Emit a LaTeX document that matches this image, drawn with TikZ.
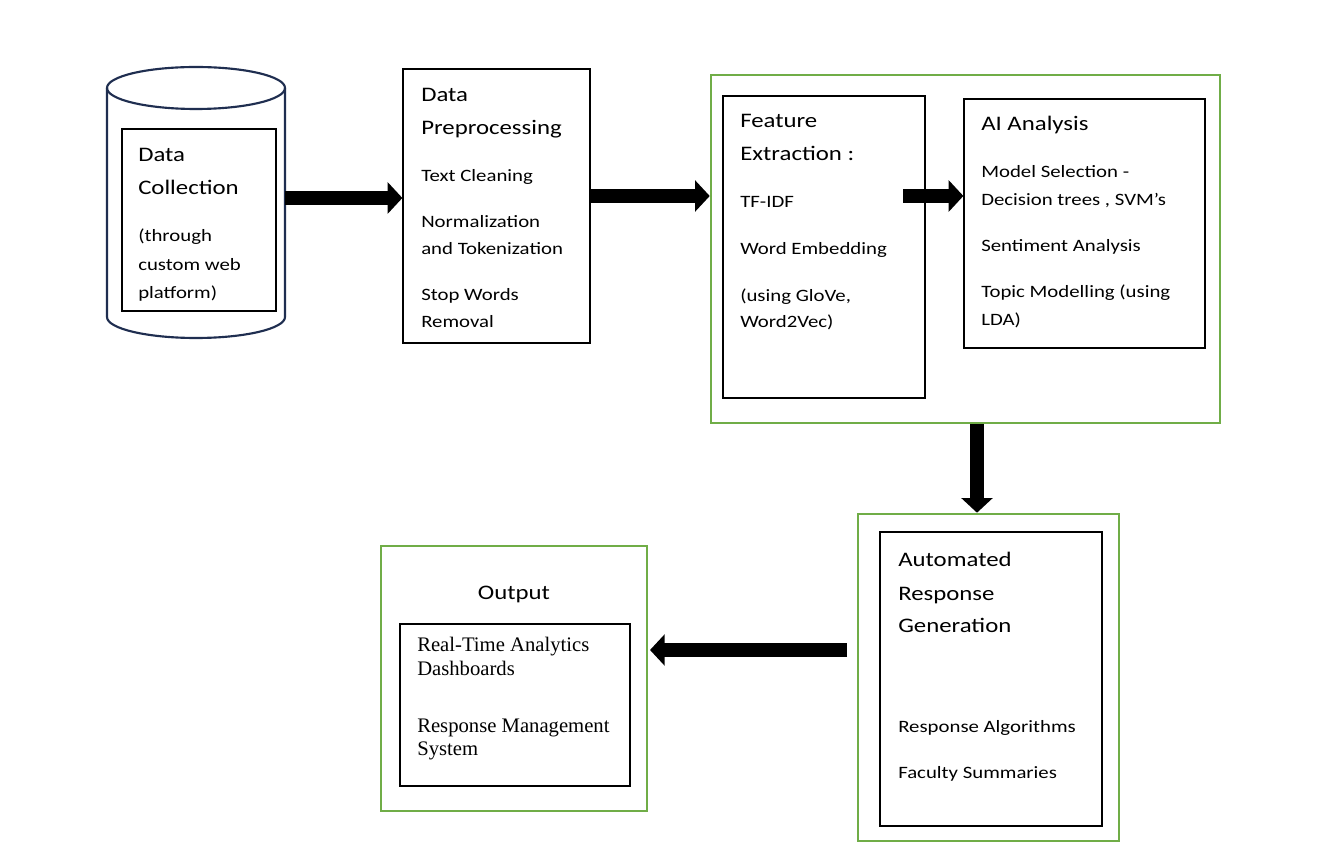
\documentclass[tikz,border=0pt]{standalone}
\usepackage{fontspec}
\usetikzlibrary{arrows.meta,fit}
\newfontfamily\calfont[FakeStretch=1.2]{Carlito}
\newfontfamily\tnrfont{Liberation Serif}
\definecolor{navy}{RGB}{31,46,80}
\definecolor{grn}{RGB}{112,173,71}
\tikzset{
  box/.style={draw=black, line width=0.9pt, inner sep=0pt},
  gbox/.style={draw=grn, line width=1.9pt, inner sep=0pt},
  big/.style={anchor=base west, inner sep=0pt, font=\calfont\fontsize{15.5}{18}\selectfont},
  sml/.style={anchor=base west, inner sep=0pt, font=\calfont\fontsize{13}{15}\selectfont},
  ser/.style={anchor=base west, inner sep=0pt, font=\tnrfont\fontsize{15.5}{18}\selectfont},
  bigarrow/.style={line width=10.5pt, -{Triangle[length=11pt,width=23pt]}},
}
\begin{document}
\begin{tikzpicture}[x=0.75pt,y=-0.75pt]
\fill[white] (0,0) rectangle (1335,862);
\useasboundingbox (0,0) rectangle (1335,862);
% cylinder
\draw[navy, line width=1.6pt, fill=white] (107,88) -- (107,317) arc[start angle=180, end angle=0, x radius=89, y radius=21] -- (285,88);
\draw[navy, line width=1.6pt] (196,88) ellipse[x radius=89, y radius=21];
\node[inner sep=0pt, fit={(107,67) (285,338)}] (cyl) {};
% boxes
\node[box, fit={(122,129) (276,311)}] (dc) {};
\node[box, fit={(403,69) (590,343)}] (dp) {};
\node[gbox, fit={(711,75) (1220,423)}] (g1) {};
\node[box, fit={(723,96) (925,398)}] (fe) {};
\node[box, fit={(964,99) (1205,348)}] (ai) {};
\node[gbox, fit={(858,514) (1119,841)}] (g2) {};
\node[box, fit={(880,532) (1102,826)}] (arg) {};
\node[gbox, fit={(381,546) (647,811)}] (g3) {};
\node[box, fit={(400,624) (630,786)}] (out) {};
% texts: data collection
\node[big] (t1) at (138,162) {Data};
\node[big] (t2) at (138,195) {Collection};
\node[sml] (t3) at (138,242) {(through};
\node[sml] (t4) at (138,270.5) {custom web};
\node[sml] (t5) at (138,298.5) {platform)};
% preprocessing
\node[big] (p1) at (421,101.7) {Data};
\node[big] (p2) at (421,135) {Preprocessing};
\node[sml] (p3) at (421,181.7) {Text Cleaning};
\node[sml] (p4) at (421,227.7) {Normalization};
\node[sml] (p5) at (421,255) {and Tokenization};
\node[sml] (p6) at (421,301) {Stop Words};
\node[sml] (p7) at (421,328) {Removal};
% feature extraction
\node[big] (f1) at (740,128) {Feature};
\node[big] (f2) at (740,161) {Extraction :};
\node[sml] (f3) at (740,208) {TF-IDF};
\node[sml] (f4) at (740,255) {Word Embedding};
\node[sml] (f5) at (740,302) {(using GloVe,};
\node[sml] (f6) at (740,328) {Word2Vec)};
% AI analysis
\node[big] (a1) at (981,131) {AI Analysis};
\node[sml] (a2) at (981,178) {Model Selection -};
\node[sml] (a3) at (981,206) {Decision trees , SVM’s};
\node[sml] (a4) at (981,252) {Sentiment Analysis};
\node[sml] (a5) at (981,298) {Topic Modelling (using};
\node[sml] (a6) at (981,326) {LDA)};
% automated response
\node[big] (r1) at (898,566.7) {Automated};
\node[big] (r2) at (898,600) {Response};
\node[big] (r3) at (898,632) {Generation};
\node[sml] (r4) at (898,732) {Response Algorithms};
\node[sml] (r5) at (898,778) {Faculty Summaries};
% output
\node[big, anchor=base] (o1) at (514,599) {Output};
\node[ser] (o2) at (417,651.7) {Real-Time Analytics};
\node[ser] (o3) at (417,675.7) {Dashboards};
\node[ser] (o4) at (417,732.3) {Response Management};
\node[ser] (o5) at (417,755.7) {System};
% arrows
\coordinate (a3s) at (903,196);
\coordinate (a4x) at (977,0);
\coordinate (a5s) at (847,650);
\coordinate (a5e) at (650,650);
\draw[bigarrow] (cyl.east |- 0,198) -- (dp.west |- 0,198);
\draw[bigarrow] (dp.east |- 0,196) -- (g1.west |- 0,196);
\draw[bigarrow] (a3s) -- (ai.west |- a3s);
\draw[bigarrow] (a4x |- g1.south) -- (a4x |- g2.north);
\draw[bigarrow] (a5s) -- (a5e);
\end{tikzpicture}
\end{document}
